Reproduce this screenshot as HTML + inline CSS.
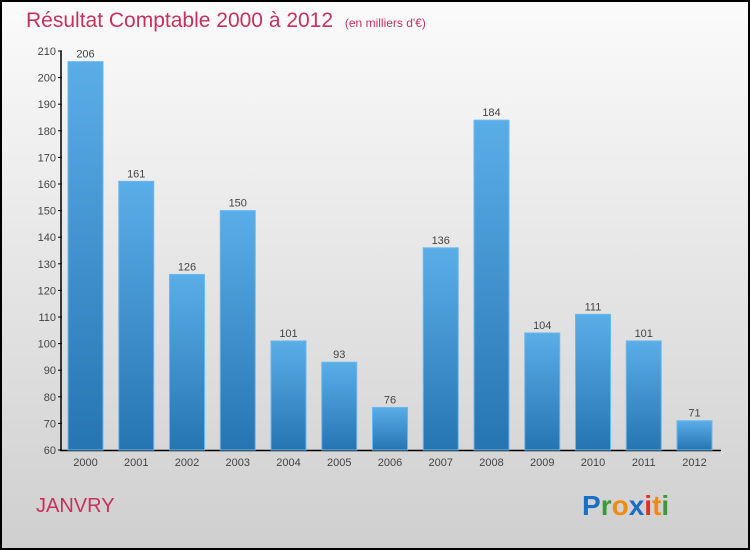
<!DOCTYPE html>
<html><head><meta charset="utf-8"><style>
body{margin:0;width:750px;height:550px;overflow:hidden}
svg{display:block;font-family:"Liberation Sans",sans-serif}
</style></head><body>
<svg id="chart" width="750" height="550">
<defs>
<linearGradient id="bg" x1="0" y1="0" x2="0" y2="1"><stop offset="0" stop-color="#fbfbfb"/><stop offset="1" stop-color="#cfcfcf"/></linearGradient>
<linearGradient id="bar" x1="0" y1="0" x2="0" y2="1"><stop offset="0" stop-color="#5aaee8"/><stop offset="1" stop-color="#2675b2"/></linearGradient>
</defs>
<rect x="1" y="1" width="748" height="548" fill="url(#bg)" stroke="#000" stroke-width="2"/>
<text x="26" y="27" font-size="21" fill="#c8305e">Résultat Comptable 2000 à 2012 <tspan font-size="12" dx="6">(en milliers d'€)</tspan></text>
<text x="36" y="512" font-size="20" fill="#c8305e">JANVRY</text>
<g font-size="28" font-weight="bold">
<text x="582" y="515"><tspan fill="#1a6fc0">P</tspan><tspan fill="#3a9a3a">r</tspan><tspan fill="#f08a10">o</tspan><tspan fill="#1a6fc0">x</tspan><tspan fill="#e03020">i</tspan><tspan fill="#f08a10">t</tspan><tspan fill="#3a9a3a">i</tspan></text>
</g>
<g id="axes"></g><g id="bars"></g>
</svg>
<script>
const categories=["2000","2001","2002","2003","2004","2005","2006","2007","2008","2009","2010","2011","2012"];
const values=[206,161,126,150,101,93,76,136,184,104,111,101,71];
const yTicks=[60,70,80,90,100,110,120,130,140,150,160,170,180,190,200,210];
const NS="http://www.w3.org/2000/svg";
const y=v=>450-(v-60)*2.66;
const x=i=>85.5+i*50.75;
function mk(t,a,p,txt){const e=document.createElementNS(NS,t);for(const k in a)e.setAttribute(k,a[k]);if(txt!=null)e.textContent=txt;p.appendChild(e);return e;}
const ax=document.getElementById('axes'),bg=document.getElementById('bars');
let l=mk('line',{x1:61,y1:51,x2:61,y2:451,stroke:'#000','stroke-width':1.5},ax);


l=mk('line',{x1:60,y1:450.5,x2:721,y2:450.5,stroke:'#000','stroke-width':1.5},ax);


yTicks.forEach(v=>{
 mk('line',{x1:58,y1:y(v),x2:62,y2:y(v),stroke:'#000'},ax);
 const t=mk('text',{x:56,y:y(v)+4,'font-size':11,fill:'#444','text-anchor':'end'},ax,v);
 
 
});
categories.forEach((c,i)=>{
 const r=mk('rect',{x:x(i)-17.5,y:y(values[i]),width:35,height:450-y(values[i]),fill:'url(#bar)',stroke:'#6bb8ee','stroke-width':1},bg);
 
 
 const v=mk('text',{x:x(i),y:y(values[i])-4,'font-size':11,fill:'#444','text-anchor':'middle'},bg,values[i]);
 
 
 const t=mk('text',{x:x(i),y:466,'font-size':11,fill:'#444','text-anchor':'middle'},ax,c);
 
 
});
</script>
</body></html>
